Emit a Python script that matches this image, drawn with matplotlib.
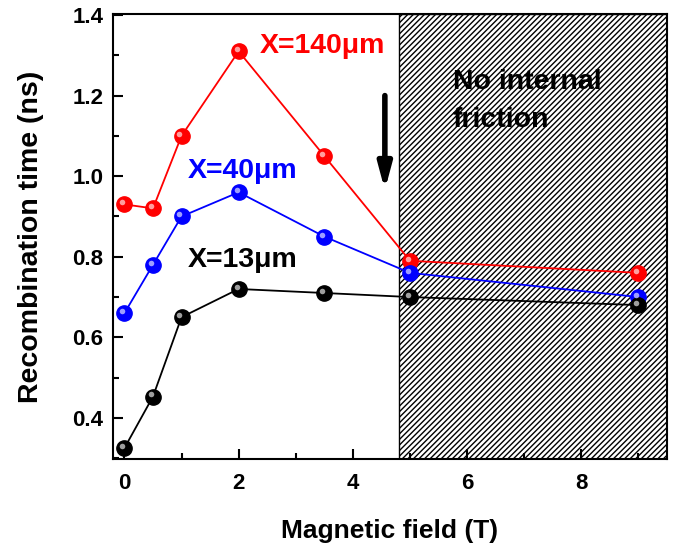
import matplotlib
matplotlib.use("Agg")
import matplotlib.pyplot as plt
import matplotlib.transforms as mtransforms
from matplotlib.patches import Rectangle
from matplotlib.ticker import MultipleLocator

plt.rcParams['font.family'] = ['Liberation Sans', 'DejaVu Sans']
plt.rcParams['font.weight'] = 'bold'
plt.rcParams['hatch.linewidth'] = 1.0

field = [0, 0.5, 1, 2, 3.5, 5, 9]
t_140 = [0.93, 0.92, 1.10, 1.31, 1.05, 0.79, 0.76]
t_40 = [0.66, 0.78, 0.90, 0.96, 0.85, 0.76, 0.70]
t_13 = [0.325, 0.453, 0.65, 0.72, 0.71, 0.70, 0.68]
series_labels = ["X=140\u03bcm", "X=40\u03bcm", "X=13\u03bcm"]
colors = ["#ff0000", "#0000ff", "#000000"]
highlights = ["#ffb0b0", "#b0b0ff", "#b0b0b0"]

fig = plt.figure(figsize=(6.82, 5.44), dpi=100)
ax = fig.add_axes([113/682, 1-459/544, (667-113)/682, (459-14)/544])
ax.set_xlim(-0.2, 9.5)
ax.set_ylim(0.298, 1.4025)

# hatched region
ax.add_patch(Rectangle((4.8, 0.298), 9.5-4.8, 1.4025-0.298, facecolor='white',
                       edgecolor='black', hatch='//////', linewidth=1.0, zorder=1))

offset = ax.transData + mtransforms.ScaledTranslation(-1.5/72, 1.5/72, fig.dpi_scale_trans)
for ys, c, h in zip([t_140, t_40, t_13], colors, highlights):
    ax.plot(field, ys, '-', color=c, lw=1.3, zorder=3)
    ax.plot(field, ys, 'o', color=c, ms=11, mec=c, zorder=4)
    ax.plot(field, ys, 'o', color=h, ms=4, mec='none', alpha=0.9, zorder=5, transform=offset)

ax.text(2.37, 1.306, series_labels[0], color=colors[0], fontsize=20.5, fontweight='bold', va='baseline')
ax.text(1.105, 0.996, series_labels[1], color=colors[1], fontsize=20.5, fontweight='bold', va='baseline')
ax.text(1.105, 0.775, series_labels[2], color=colors[2], fontsize=20.5, fontweight='bold', va='baseline')
ax.text(5.75, 1.216, "No internal", color='black', fontsize=20.5, fontweight='bold',
        va='baseline', ha='left', zorder=6)
ax.text(5.75, 1.122, "friction", color='black', fontsize=20.5, fontweight='bold',
        va='baseline', ha='left', zorder=6)

ax.annotate("", xy=(4.56, 0.965), xytext=(4.56, 1.2),
            arrowprops=dict(arrowstyle='-|>,head_width=0.4,head_length=1.5', color='black', lw=4,
                            shrinkA=0, shrinkB=0), zorder=6)

ax.xaxis.set_major_locator(MultipleLocator(2))
ax.xaxis.set_minor_locator(MultipleLocator(1))
ax.yaxis.set_major_locator(MultipleLocator(0.2))
ax.yaxis.set_minor_locator(MultipleLocator(0.1))
ax.tick_params(which='both', direction='in', top=False, right=False, width=1.5)
ax.tick_params(which='major', length=7, labelsize=16)
ax.tick_params(axis='x', which='major', pad=10)
ax.tick_params(axis='y', which='major', pad=7)
ax.tick_params(which='minor', length=4)
for lab in ax.get_xticklabels() + ax.get_yticklabels():
    lab.set_fontweight('bold')
for s in ax.spines.values():
    s.set_linewidth(1.5)
    s.set_zorder(7)

ax.set_xlabel("Magnetic field (T)", fontsize=19, fontweight='bold', labelpad=18)
ax.set_ylabel("Recombination time (ns)", fontsize=20.5, fontweight='bold', labelpad=20)

fig.savefig("out.png", dpi=100)
